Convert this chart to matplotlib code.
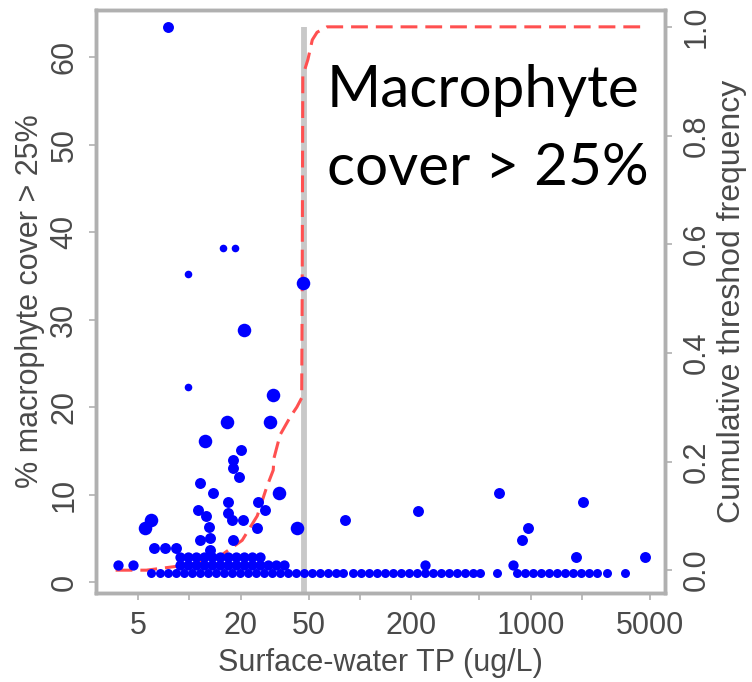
import matplotlib
matplotlib.use("Agg")
import matplotlib.pyplot as plt

# --- data ---
# large dots
big_tp = [46.3, 20.9, 30.9, 16.6, 29.7, 12.4, 33.5, 6.0, 5.5, 43.0]
big_cov = [34.2, 28.8, 21.4, 18.3, 18.3, 16.1, 10.2, 7.1, 6.2, 6.2]

# medium dots
med_tp = [7.5, 20.0, 18.1, 17.9, 19.6, 11.6, 13.8, 16.9, 25.4, 11.2, 27.8, 16.9,
          17.8, 20.5, 25.0, 13.0, 12.5, 13.3, 11.6, 18.0, 6.2, 7.2, 8.4, 13.3,
          81.6, 218, 652, 964, 887, 2023, 1841, 4670]
med_cov = [63.4, 15.1, 13.9, 13.0, 12.0, 11.3, 10.2, 9.1, 9.1, 8.2, 8.2, 7.9,
           7.1, 7.1, 6.2, 6.3, 7.5, 5.0, 4.8, 4.8, 3.9, 3.9, 3.9, 3.7,
           7.1, 8.1, 10.2, 6.2, 4.8, 9.1, 2.9, 2.9]

# small dots
small_tp = [15.7, 18.5, 9.8, 9.8]
small_cov = [38.2, 38.2, 35.2, 22.3]

# rows of low-cover sites
row3_tp = [8.8, 9.8, 10.9, 12.2, 13.6, 15.1, 16.8, 18.8, 20.9, 23.3, 25.9]
row2_tp = [3.8, 4.7, 8.8, 9.8, 10.9, 12.2, 13.6, 15.1, 16.8, 18.8, 20.9, 23.3,
           25.9, 28.9, 32.2, 35.8, 240, 787]
row1_tp = [6.0, 6.7, 7.5, 8.4, 9.3, 10.4, 11.5, 12.8, 14.3, 16.0, 17.8, 19.8,
           22.0, 24.5, 27.3, 30.5, 34.0, 37.8, 42.2, 46.9, 52.3, 58.2, 64.9,
           72.3, 79.4, 91, 101, 113, 126, 140, 156, 174, 194, 215, 240, 267,
           298, 332, 370, 412, 458, 504, 634, 830, 925, 1030, 1148, 1279,
           1425, 1585, 1766, 1968, 2192, 2443, 2797, 3564]

# cumulative threshold frequency
cum_tp = [3.7, 5.6, 10, 15, 20.4, 25, 28.4, 31, 31.3, 34, 39, 42.6, 45.5,
          45.8, 46.2, 49.5, 52.5, 56, 64, 4800]
cum_freq = [0.0, 0.0, 0.01, 0.025, 0.055, 0.1, 0.153, 0.184, 0.206, 0.249,
            0.282, 0.30, 0.317, 0.5, 0.91, 0.94, 0.976, 0.99, 1.0, 1.0]
threshold_tp = 47

xticks = [5, 10, 20, 50, 100, 200, 500, 1000, 2000, 5000]
xtick_labels = ["5", "", "20", "50", "", "200", "", "1000", "", "5000"]

plt.rcParams['font.family'] = ['Liberation Sans', 'DejaVu Sans']
txt_col = '#4a4a4a'
spine_col = '#b0b0b0'

fig = plt.figure(figsize=(7.52, 6.82), dpi=100)
ax = fig.add_axes([96/752, 1 - 593/682, (665-96)/752, (593-10)/682])
ax2 = ax.twinx()

# threshold line + cumulative curve (right axis)
ax2.plot([threshold_tp, threshold_tp], [-0.1, 1.0], color='#c8c8c8', lw=4.2,
         solid_capstyle='butt', zorder=1)
line, = ax2.plot(cum_tp, cum_freq, color='#ff5050', lw=2.2, zorder=2)
line.set_dashes([5.5, 2.6])
ax2.set_ylim(-0.042, 1.031)

# points (left axis, drawn on top)
ax.set_zorder(ax2.get_zorder() + 1)
ax.patch.set_visible(False)
blue = '#0000ff'
ax.scatter(row1_tp, [1.0] * len(row1_tp), s=42, color=blue, lw=0)
ax.scatter(row2_tp, [1.9] * len(row2_tp), s=55, color=blue, lw=0)
ax.scatter(row3_tp, [2.9] * len(row3_tp), s=55, color=blue, lw=0)
ax.scatter(small_tp, small_cov, s=30, color=blue, lw=0)
ax.scatter(med_tp, med_cov, s=62, color=blue, lw=0)
ax.scatter(big_tp, big_cov, s=95, color=blue, lw=0)

ax.set_xscale('log')
ax.set_xlim(2.84, 6110)
ax.set_ylim(-1.26, 65.4)
ax.set_xticks(xticks)
ax.set_xticklabels(xtick_labels)
ax.minorticks_off()
ax.set_yticks([0, 10, 20, 30, 40, 50, 60])
ax2.set_yticks([0.0, 0.2, 0.4, 0.6, 0.8, 1.0])
ax2.set_yticklabels(["0.0", "0.2", "0.4", "0.6", "0.8", "1.0"])

for a in (ax, ax2):
    for sp in a.spines.values():
        sp.set_color(spine_col)
        sp.set_linewidth(2.5)
    a.tick_params(colors=spine_col, labelcolor=txt_col, labelsize=22,
                  length=5, width=1.2)
ax.tick_params(axis='x', pad=8)
ax.tick_params(axis='y', pad=7, labelrotation=90)
ax2.tick_params(axis='y', pad=7, labelrotation=90)
for lab in ax.get_yticklabels() + ax2.get_yticklabels():
    lab.set_va('center')

ax.set_xlabel("Surface-water TP (ug/L)", fontsize=22, color=txt_col, labelpad=5)
ax.set_ylabel("% macrophyte cover > 25%", fontsize=22, color=txt_col, labelpad=3)
ax2.set_ylabel("Cumulative threshod frequency", fontsize=23, color=txt_col,
               labelpad=4)

for line_txt, base_y in (("Macrophyte", 107), ("cover > 25%", 185)):
    fig.text(327/752, 1 - base_y/682, line_txt, family='Lato', fontsize=42,
             color='black', va='baseline', ha='left')

fig.savefig('out.png', dpi=100)
